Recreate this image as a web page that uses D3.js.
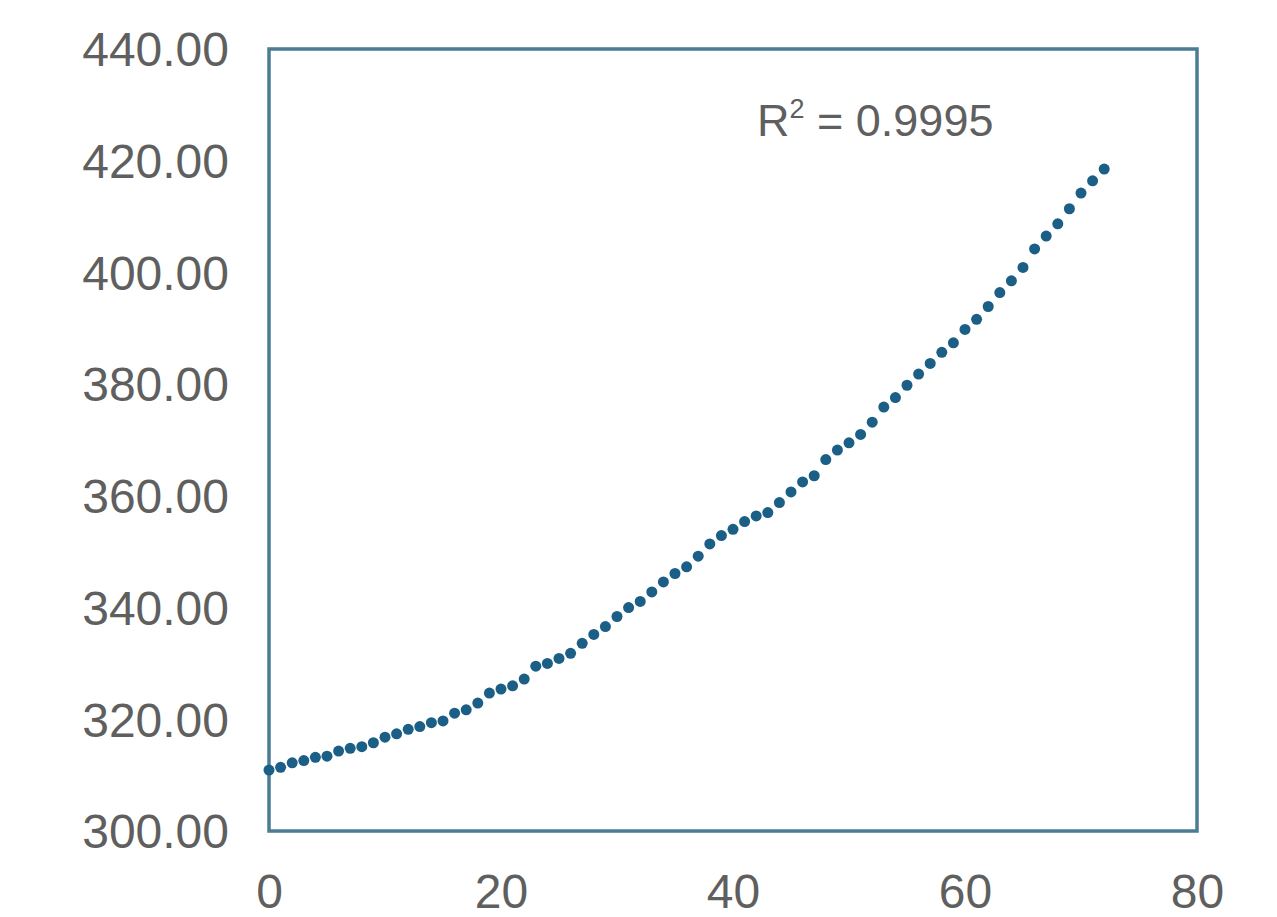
<!DOCTYPE html>
<html>
<head>
<meta charset="utf-8">
<script src="https://cdn.jsdelivr.net/npm/d3@7"></script>
<style>
  html, body { margin: 0; padding: 0; background: #fff; }
  svg { display: block; }
</style>
</head>
<body>
<svg id="chart" width="1277" height="917"></svg>
<script>
// ===== Data =====
const xValues = d3.range(0, 73);
const yValues = [
  310.9, 311.4, 312.2, 312.6, 313.2, 313.4, 314.3, 314.8, 315.1, 315.8,
  316.8, 317.4, 318.2, 318.7, 319.4, 319.7, 321.1, 321.7, 322.9, 324.7,
  325.4, 326.0, 327.2, 329.5, 330.0, 330.9, 331.8, 333.6, 335.2, 336.6,
  338.4, 340.0, 341.1, 342.8, 344.6, 346.1, 347.3, 349.2, 351.4, 352.9,
  354.0, 355.4, 356.4, 357.0, 358.8, 360.7, 362.5, 363.6, 366.5, 368.2,
  369.5, 371.0, 373.2, 375.9, 377.6, 379.8, 381.8, 383.7, 385.7, 387.4,
  389.8, 391.6, 393.9, 396.4, 398.5, 400.9, 404.2, 406.5, 408.7, 411.4,
  414.2, 416.4, 418.5
];
const xTicks = [0, 20, 40, 60, 80];
const yTicks = [300, 320, 340, 360, 380, 400, 420, 440];
const r2Label = '0.9995';

// ===== Layout =====
const plot = { left: 269, right: 1197, top: 49, bottom: 831 };
const textColor = '#5f5f5f';
const fontFamily = '"Liberation Sans", Arial, sans-serif';

const svg = d3.select('#chart');

const x = d3.scaleLinear().domain([0, 80]).range([plot.left, plot.right]);
const y = d3.scaleLinear().domain([300, 440]).range([plot.bottom, plot.top]);

// --- Y axis labels (no line, no ticks) ---
const yAxis = d3.axisLeft(y).tickValues(yTicks).tickSize(0).tickPadding(0)
  .tickFormat(d3.format('.2f'));
svg.append('g')
  .attr('transform', `translate(229,0)`)
  .call(yAxis)
  .call(g => g.select('.domain').remove())
  .selectAll('text')
  .attr('dy', '0.35em')
  .style('font-family', fontFamily)
  .style('font-size', '48px')
  .style('fill', textColor);

// --- X axis labels ---
const xAxis = d3.axisBottom(x).tickValues(xTicks).tickSize(0).tickPadding(0)
  .tickFormat(d3.format('d'));
svg.append('g')
  .attr('transform', `translate(0,874)`)
  .call(xAxis)
  .call(g => g.select('.domain').remove())
  .selectAll('text')
  .attr('dy', '0.71em')
  .style('font-family', fontFamily)
  .style('font-size', '48px')
  .style('fill', textColor);

// --- Plot frame ---
svg.append('rect')
  .attr('x', plot.left).attr('y', plot.top)
  .attr('width', plot.right - plot.left)
  .attr('height', plot.bottom - plot.top)
  .attr('fill', 'none')
  .attr('stroke', '#4a7c94')
  .attr('stroke-width', 3.5);

// --- Points ---
svg.append('g')
  .selectAll('circle')
  .data(xValues.map((d, i) => ({ x: d, y: yValues[i] })))
  .join('circle')
  .attr('cx', d => x(d.x))
  .attr('cy', d => y(d.y))
  .attr('r', 5.5)
  .attr('fill', '#1b5f86');

// --- R² annotation ---
const r2 = svg.append('text')
  .attr('x', 757).attr('y', 136)
  .style('font-family', fontFamily)
  .style('font-size', '45px')
  .style('fill', textColor);
r2.append('tspan').text('R');
r2.append('tspan').text('2')
  .attr('dy', -18)
  .style('font-size', '27px');
r2.append('tspan').text(' = ' + r2Label)
  .attr('dy', 18);
</script>
</body>
</html>
